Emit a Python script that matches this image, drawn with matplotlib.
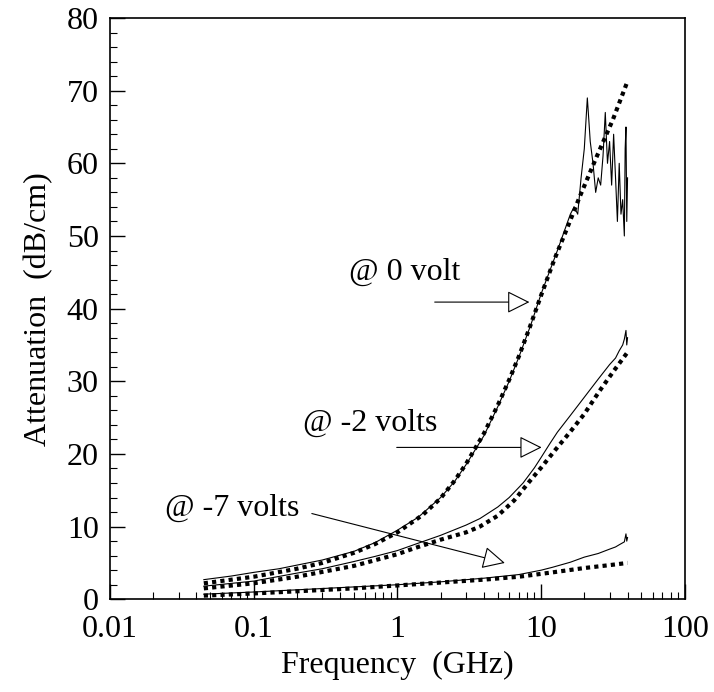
import matplotlib.pyplot as plt
import numpy as np

plt.rcParams['font.family'] = ['Liberation Serif', 'DejaVu Serif']

# measured attenuation (thin solid lines)
f_0v = [0.045, 0.07, 0.1, 0.15, 0.2, 0.3, 0.5, 0.7, 1.0, 1.4, 2.0, 2.5, 3.0, 4.0, 5.0, 6.0, 7.0,
        8.5, 10, 13, 16, 17, 18, 19, 20, 21, 21.5, 22, 23, 24, 25, 26, 27, 28, 29, 30, 31,
        32, 33, 34, 35, 36, 37, 38, 38.5, 39, 39.5, 40]
att_0v = [2.7, 3.2, 3.7, 4.2, 4.7, 5.4, 6.6, 7.8, 9.5, 11.3, 14.0, 16.2, 18.5, 22.5, 26.5, 30.0, 33.3,
          37.8, 42, 48, 53, 54, 53, 58, 62, 69, 66, 63, 60, 56, 58, 57, 61, 67, 60, 63, 57,
          64, 58, 52, 60, 53, 55, 50, 62, 65, 52, 58]

f_2v = [0.045, 0.1, 0.2, 0.3, 0.5, 0.7, 1.0, 1.3, 2.0, 3.0, 3.75, 5.0, 6.0, 7.5, 9.0, 10, 11.5,
        13, 16, 20, 25, 30, 33, 35, 37, 38, 39, 39.5, 40]
att_2v = [1.8, 2.5, 3.6, 4.2, 5.2, 5.9, 6.7, 7.5, 8.8, 10.2, 11.1, 12.7, 14.0, 16.0, 18.1, 19.5, 21.4,
          23.0, 25.3, 27.8, 30.3, 32.3, 33.2, 34.2, 35.0, 35.8, 37.0, 35.0, 36.0]

f_7v = [0.045, 0.1, 0.2, 0.5, 1.0, 2.0, 4.0, 7.0, 10, 12, 16, 20, 25, 30, 33, 35, 38, 39, 39.5, 40]
att_7v = [0.7, 1.0, 1.3, 1.7, 2.0, 2.4, 2.9, 3.4, 4.0, 4.4, 5.1, 5.8, 6.3, 6.9, 7.2, 7.5, 7.9, 9.0, 8.0, 8.5]

# model (thick dotted lines)
fm_0v = [0.045, 0.1, 0.2, 0.3, 0.5, 0.7, 1.0, 1.5, 2.0, 2.5, 3.0, 4.0, 5.0, 6.0, 7.0, 8.3, 10,
         12.4, 15, 18.5, 24.5, 31.6, 40]
mod_0v = [2.2, 3.1, 4.2, 5.0, 6.4, 7.6, 9.2, 11.6, 13.9, 16.3, 18.6, 22.8, 26.7, 30.2, 33.4, 37.3, 41.8,
          46.8, 50.8, 55.3, 61, 66, 71.3]

fm_2v = [0.045, 0.1, 0.2, 0.5, 1.0, 1.3, 2.0, 3.0, 3.75, 5.0, 6.5, 8.3, 10, 12.5, 15.9, 20, 25.6, 32, 40]
mod_2v = [1.5, 2.2, 3.1, 4.6, 6.2, 7.0, 8.2, 9.2, 10.0, 11.5, 13.6, 16.2, 18.1, 20.5, 23.0, 25.5, 28.7, 31.4, 34.0]

fm_7v = [0.045, 0.1, 0.2, 0.5, 1.0, 2.0, 4.0, 7.0, 12, 20, 30, 40]
mod_7v = [0.5, 0.8, 1.1, 1.5, 1.9, 2.3, 2.7, 3.1, 3.7, 4.3, 4.7, 5.0]

fig = plt.figure(figsize=(7.14, 6.92), dpi=100)
ax = fig.add_axes([0.154, 0.134, 0.805, 0.840])

for f, a in [(f_0v, att_0v), (f_2v, att_2v), (f_7v, att_7v)]:
    ax.plot(f, a, color='black', lw=0.8)
for f, a in [(fm_0v, mod_0v), (fm_2v, mod_2v), (fm_7v, mod_7v)]:
    ax.plot(f, a, color='black', lw=3, linestyle=(0, (1, 1)))

ax.set_xscale('log')
ax.set_xlim(0.01, 100)
ax.set_ylim(0, 80)
ax.set_yticks(np.arange(0, 81, 10))
ax.set_yticks(np.arange(0, 81, 2), minor=True)
ax.set_xticks([0.01, 0.1, 1, 10, 100])
ax.set_xticklabels(['0.01', '0.1', '1', '10', '100'])

ax.tick_params(which='both', direction='in', top=False, right=False, labelsize=23)
ax.tick_params(which='major', length=11, width=1)
ax.tick_params(which='minor', length=5, width=0.8)
ax.tick_params(axis='x', pad=11)
ax.tick_params(axis='y', pad=8)
for s in ax.spines.values():
    s.set_linewidth(1.2)

ax.set_xlabel('Frequency  (GHz)', fontsize=23, labelpad=5)
ax.set_ylabel('Attenuation  (dB/cm)', fontsize=23, labelpad=10)

arrow = dict(arrowstyle='-|>,head_length=1.0,head_width=0.5', fc='white', ec='black',
             lw=0.8, mutation_scale=14, shrinkA=0, shrinkB=0)
ax.text(1.13, 45, '@ 0 volt', fontsize=23, ha='center', va='center')
ax.annotate('', xy=(8.3, 40.9), xytext=(1.82, 40.9), arrowprops=arrow)
ax.text(0.644, 24.2, '@ -2 volts', fontsize=23, ha='center', va='center')
ax.annotate('', xy=(10.1, 20.9), xytext=(0.99, 20.9), arrowprops=arrow)
ax.text(0.0706, 12.5, '@ -7 volts', fontsize=23, ha='center', va='center')
ax.annotate('', xy=(5.6, 5.0), xytext=(0.254, 11.8), arrowprops=arrow)

fig.savefig('out.png', dpi=100)
